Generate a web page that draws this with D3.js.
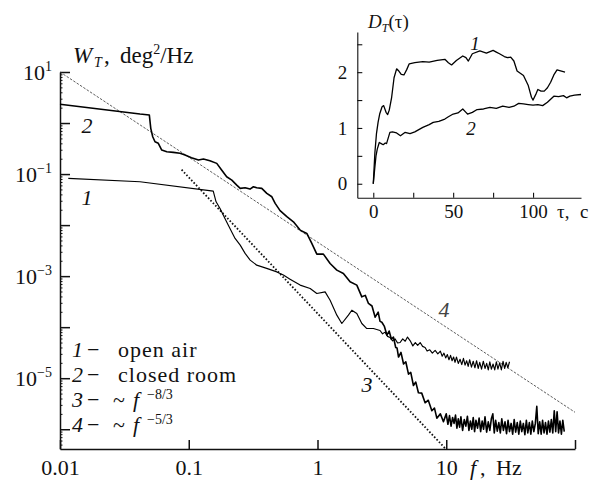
<!DOCTYPE html>
<html>
<head>
<meta charset="utf-8">
<script src="https://cdn.jsdelivr.net/npm/d3@7"></script>
<style>
  body { margin: 0; background: #fff; }
  svg text { font-family: "Liberation Serif", "Times New Roman", serif; fill: #111; }
  .axis path, .axis line { stroke: #111; }
</style>
</head>
<body>
<svg id="chart" width="592" height="480" font-family="Liberation Serif"></svg>
<script>
// main spectrum: [f (Hz), W (deg^2/Hz)]
const openAir = [
  [0.0116, 0.0824], [0.0418, 0.0706], [0.155, 0.0464], [0.163, 0.0286], [0.175, 0.0212],
  [0.191, 0.0135], [0.209, 0.00861], [0.229, 0.00548], [0.251, 0.00405], [0.274, 0.00279],
  [0.300, 0.00206], [0.337, 0.00164], [0.403, 0.00142], [0.483, 0.00121], [0.543, 0.00105],
  [0.612, 0.000873], [0.733, 0.000667], [0.877, 0.000574], [0.988, 0.000458], [1.146, 0.000492],
  [1.253, 0.000338], [1.413, 0.000172], [1.545, 0.000118], [1.738, 0.000172], [1.848, 0.000215],
  [2.02, 0.000186], [2.209, 0.000118], [2.416, 9.4e-5], [2.718, 9.4e-5],
  [3.06, 8.6e-5], [3.2, 7.4e-5], [3.35, 8.0e-5], [3.5, 6.6e-5], [3.66, 6.3e-5], [3.83, 5.4e-5],
  [4.0, 5.9e-5], [4.19, 4.9e-5], [4.38, 5.0e-5], [4.59, 5.9e-5], [4.8, 5.3e-5], [5.0, 6.4e-5],
  [5.25, 5.4e-5], [5.5, 4.3e-5], [5.75, 5.0e-5], [6.0, 4.4e-5], [6.27, 5.0e-5], [6.55, 4.2e-5],
  [6.85, 4.0e-5], [7.1, 3.4e-5], [7.45, 3.6e-5], [7.8, 3.1e-5], [8.2, 3.5e-5], [8.6, 3.0e-5],
  [9.0, 3.4e-5], [9.3, 2.7e-5], [9.6, 3.1e-5], [9.9, 2.5e-5], [10.2, 2.9e-5], [10.5, 2.3e-5],
  [10.8, 2.8e-5], [11.1, 2.2e-5], [11.4, 2.6e-5], [11.7, 2.05e-5], [12.0, 2.6e-5], [12.4, 1.95e-5],
  [12.8, 2.35e-5], [13.2, 1.85e-5], [13.6, 2.45e-5], [14.0, 1.8e-5], [14.4, 2.2e-5], [14.8, 1.7e-5],
  [15.2, 2.3e-5], [15.7, 1.65e-5], [16.2, 2.15e-5], [16.7, 1.6e-5], [17.2, 2.2e-5], [17.7, 1.55e-5],
  [18.2, 2.05e-5], [18.8, 1.5e-5], [19.4, 2.15e-5], [20.0, 1.55e-5], [20.6, 1.95e-5], [21.2, 1.45e-5],
  [21.8, 2.1e-5], [22.4, 1.5e-5], [23.1, 1.9e-5], [23.8, 1.45e-5], [24.5, 2.1e-5], [25.2, 1.5e-5],
  [26.0, 2.0e-5], [26.8, 1.45e-5], [27.6, 2.15e-5], [28.4, 1.55e-5], [29.2, 2.05e-5], [30.1, 1.6e-5],
  [31.0, 2.1e-5]
];

const closedRoom = [
  [0.01, 2.33], [0.0418, 1.50], [0.0494, 1.44], [0.0507, 0.787], [0.0525, 0.539], [0.0547, 0.430],
  [0.058, 0.400], [0.0617, 0.296], [0.0675, 0.274], [0.0759, 0.266], [0.0855, 0.255], [0.0935, 0.236],
  [0.105, 0.209], [0.119, 0.188], [0.130, 0.197], [0.146, 0.182], [0.165, 0.162], [0.180, 0.120],
  [0.197, 0.0885], [0.216, 0.0762], [0.236, 0.0608], [0.251, 0.0525], [0.274, 0.0538], [0.299, 0.0508],
  [0.318, 0.0564], [0.337, 0.0538], [0.369, 0.0525], [0.404, 0.0419], [0.442, 0.0359], [0.469, 0.0266],
  [0.512, 0.0192], [0.578, 0.0146], [0.650, 0.0116], [0.733, 0.00798], [0.826, 0.00687], [0.903, 0.00438],
  [0.988, 0.0027], [1.111, 0.0027], [1.253, 0.00177], [1.413, 0.00131], [1.589, 0.00113], [1.791, 0.000773],
  [2.02, 0.000667], [2.209, 0.000393], [2.35, 0.00042], [2.488, 0.000292], [2.65, 0.00026], [2.805, 0.000157],
  [2.96, 0.000197], [3.06, 0.00013], [3.162, 0.000125], [3.3, 1.05e-4], [3.459, 7.0e-5], [3.6, 8.4e-5],
  [3.75, 5.8e-5], [3.89, 6.4e-5], [4.05, 4.0e-5], [4.15, 3.9e-5], [4.26, 2.6e-5], [4.45, 3.2e-5],
  [4.66, 1.9e-5], [4.85, 2.1e-5], [5.09, 1.2e-5], [5.3, 1.3e-5], [5.56, 7.2e-6], [5.8, 8.4e-6],
  [6.08, 5.2e-6], [6.45, 5.1e-6], [6.85, 3.3e-6], [7.25, 3.7e-6], [7.73, 2.3e-6], [8.1, 2.6e-6],
  [8.45, 1.65e-6], [9.0, 2.0e-6], [9.51, 1.4e-6],
  [10, 2.0e-6], [10.3, 1.25e-6], [10.6, 1.85e-6], [10.9, 1.15e-6], [11.2, 1.7e-6], [11.5, 1.3e-6],
  [11.8, 1.9e-6], [12.1, 1.05e-6], [12.4, 1.6e-6], [12.7, 1.1e-6], [13.0, 1.75e-6], [13.4, 0.95e-6],
  [13.8, 1.55e-6], [14.2, 1.15e-6], [14.6, 1.8e-6], [15.0, 0.95e-6], [15.4, 1.45e-6], [15.8, 1.0e-6],
  [16.2, 1.7e-6], [16.6, 0.9e-6], [17.0, 1.5e-6], [17.5, 1.05e-6], [18.0, 1.65e-6], [18.5, 0.9e-6],
  [19.0, 1.45e-6], [19.5, 1.0e-6], [20.0, 1.75e-6], [20.6, 0.88e-6], [21.2, 1.4e-6], [21.8, 0.95e-6],
  [22.4, 1.6e-6], [23.0, 2.0e-6], [23.6, 0.85e-6], [24.2, 1.5e-6], [24.9, 0.92e-6], [25.6, 1.35e-6],
  [26.3, 0.85e-6], [27.0, 1.6e-6], [27.8, 0.95e-6], [28.6, 1.4e-6], [29.4, 0.82e-6], [30.2, 1.5e-6],
  [31.0, 0.9e-6], [31.9, 1.3e-6], [32.8, 0.8e-6], [33.7, 1.55e-6], [34.6, 0.88e-6], [35.6, 1.35e-6],
  [36.6, 0.8e-6], [37.6, 1.45e-6], [38.6, 0.9e-6], [39.7, 1.3e-6], [40.8, 0.78e-6], [41.9, 1.5e-6],
  [43.0, 0.85e-6], [44.2, 1.35e-6], [45.4, 0.8e-6], [46.6, 1.45e-6], [47.9, 0.9e-6], [49.2, 1.3e-6],
  [50.5, 2.8e-6], [51.8, 0.82e-6], [53.2, 1.4e-6], [54.6, 0.8e-6], [56.0, 1.5e-6], [57.5, 0.85e-6],
  [59.0, 1.35e-6], [60.6, 0.8e-6], [62.2, 1.45e-6], [63.8, 0.88e-6], [65.5, 1.55e-6], [67.2, 0.85e-6],
  [69.0, 2.3e-6], [70.8, 0.9e-6], [72.6, 2.2e-6], [74.5, 0.85e-6], [76.4, 1.45e-6], [78.4, 0.8e-6],
  [80.4, 1.5e-6], [82.5, 0.9e-6]
];

// power-law guides, end points only
const slope83 = [[0.088, 0.1216], [9.9, 4.12e-7]];
const slope53 = [[0.01, 10], [100, 2.15e-6]];

// inset structure function: [tau (s), D]
const insetOpen = [
  [0, 0], [1, 0.55], [2, 0.9], [3, 1.1], [4, 1.25], [5.5, 1.38], [6.5, 1.40], [8, 1.28], [9, 1.24],
  [10, 1.32], [11.5, 1.55], [13, 1.9], [14.6, 2.06], [16, 2.02], [17.5, 1.96], [19.2, 1.95], [21, 2.05],
  [22.5, 2.15], [26, 2.17], [31, 2.19], [35, 2.18], [40, 2.21], [44.8, 2.23], [47, 2.17], [49, 2.13],
  [52, 2.21], [56, 2.29], [58, 2.26], [59.5, 2.2], [62, 2.33], [66.7, 2.38], [70.8, 2.34], [75, 2.39],
  [77, 2.36], [79, 2.33], [82, 2.28], [84, 2.26], [86, 2.27], [88, 2.2], [90, 2.02], [94, 1.94],
  [97, 1.76], [99, 1.55], [100, 1.50], [102, 1.62], [103, 1.69], [105, 1.66], [107, 1.66], [109, 1.72],
  [111, 1.82], [113, 1.95], [115, 2.04], [120, 2.0]
];
const insetRoom = [
  [0, 0], [1, 0.3], [1.7, 0.5], [2.5, 0.62], [3.75, 0.74], [5, 0.72], [6.2, 0.70], [7.5, 0.73],
  [8.3, 0.72], [10.4, 0.92], [12, 0.93], [14.6, 0.91], [17, 0.86], [19.8, 0.92], [23, 0.9], [26, 0.93],
  [31, 1.01], [35, 1.06], [37.5, 1.10], [41, 1.12], [44.8, 1.16], [47, 1.2], [50, 1.25], [53, 1.27],
  [56, 1.34], [58, 1.28], [59, 1.25], [62, 1.28], [65, 1.33], [69, 1.34], [73, 1.37], [77, 1.35],
  [81, 1.39], [85, 1.37], [88, 1.39], [91, 1.44], [94, 1.43], [97, 1.42], [100, 1.41], [103, 1.42],
  [106, 1.40], [109, 1.46], [113, 1.57], [116, 1.56], [119, 1.58], [121, 1.54], [123, 1.57], [126, 1.59],
  [130, 1.6]
];

// tick values / labels
const xTicks = [0.01, 0.1, 1, 10, 100];
const xTickLabels = ["0.01", "0.1", "1", "10", ""];
const yDecades = [10, 1, 0.1, 0.01, 1e-3, 1e-4, 1e-5, 1e-6];
const yLabelExp = [1, -1, -3, -5];
const insetXTicks = [0, 25, 50, 75, 100];
const insetXLabels = [0, 50, 100];
const insetYTicks = [0, 0.5, 1, 1.5, 2, 2.5];
const insetYLabels = [0, 1, 2];
const legendRows = [
  { num: "1", text: "open air" },
  { num: "2", text: "closed room" },
  { num: "3", text: "~ ", f: "f", exp: "\u22128/3" },
  { num: "4", text: "~ ", f: "f", exp: "\u22125/3" }
];

const svg = d3.select("#chart");

// scales
const x = d3.scaleLog().domain([0.01, 100]).range([60, 575]);
const y = d3.scaleLog().domain([4.1e-7, 10]).range([449, 72]);
const tx = d3.scaleLinear().domain([-10, 130]).range([357.3, 581]);
const ty = d3.scaleLinear().domain([-0.25, 2.72]).range([197.7, 32]);

// main x axis
svg.append("g")
    .attr("class", "axis")
    .attr("transform", "translate(0,449)")
    .call(d3.axisBottom(x)
        .tickValues(xTicks)
        .tickSize(-9)
        .tickSizeOuter(0)
        .tickPadding(11)
        .tickFormat((d, i) => xTickLabels[i]))
    .call(g => g.selectAll("text").style("font-size", "22px").attr("dy", "0.66em"))
    .call(g => g.selectAll("path, line").attr("stroke-width", 1.5))

// main y axis, minor ticks first
const minor = y.ticks().filter(d => Math.abs(Math.log10(d) - Math.round(Math.log10(d))) > 1e-6)
svg.append("g")
    .attr("class", "axis")
    .attr("transform", "translate(60,0)")
    .call(d3.axisLeft(y).tickValues(minor).tickSize(-2.5).tickSizeOuter(0).tickFormat(""))
    .call(g => g.selectAll("line").attr("stroke-width", 1))
    .call(g => g.select("path").remove())

svg.append("g")
    .attr("class", "axis")
    .attr("transform", "translate(60,0)")
    .call(d3.axisLeft(y).tickValues(yDecades).tickSize(-10).tickSizeOuter(0).tickFormat(""))
    .call(g => g.selectAll("path, line").attr("stroke-width", 1.5))

// y labels 10^n
yLabelExp.forEach(e => {
    const t = svg.append("text")
        .attr("x", 52)
        .attr("y", y(Math.pow(10, e)) + 8)
        .attr("text-anchor", "end")
        .style("font-size", "22px")
    t.append("tspan").text("10")
    t.append("tspan").attr("dy", -9).style("font-size", "14px")
        .text(e < 0 ? "\u2212" + Math.abs(e) : String(e))
})

// guide lines
const line = d3.line().x(d => x(d[0])).y(d => y(d[1]));

svg.append("path")
    .datum(slope53)
    .attr("d", line)
    .attr("fill", "none")
    .attr("stroke", "#333")
    .attr("stroke-width", 0.8)
    .attr("stroke-dasharray", "2.5 1.5")

svg.append("path")
    .datum(slope83)
    .attr("d", line)
    .attr("fill", "none")
    .attr("stroke", "#111")
    .attr("stroke-width", 1.8)
    .attr("stroke-dasharray", "1.6 1.9")

// spectra (open air drawn thinner than closed room)
svg.append("path")
    .datum(openAir)
    .attr("d", line)
    .attr("fill", "none")
    .attr("stroke", "#000")
    .attr("stroke-width", 1.15)
    .attr("stroke-linejoin", "round")

svg.append("path")
    .datum(closedRoom)
    .attr("d", line)
    .attr("fill", "none")
    .attr("stroke", "#000")
    .attr("stroke-width", 1.6)
    .attr("stroke-linejoin", "round")

// title and axis name
const title = svg.append("text").attr("y", 63).style("font-size", "23px")
title.append("tspan").attr("x", 73).style("font-style", "italic").text("W")
title.append("tspan").attr("x", 94).attr("dy", 4).style("font-style", "italic").style("font-size", "14px").text("T")
title.append("tspan").attr("x", 104).attr("dy", -4).text(",")
title.append("tspan").attr("x", 120).text("deg")
title.append("tspan").attr("dy", -9).style("font-size", "14px").text("2")
title.append("tspan").attr("dy", 9).text("/Hz")

const fLabel = svg.append("text").attr("y", 475).style("font-size", "22px")
fLabel.append("tspan").attr("x", 470).style("font-style", "italic").text("f")
fLabel.append("tspan").attr("x", 480).text(",")
fLabel.append("tspan").attr("x", 496).text("Hz")

// curve numbers
const curveNums = [["2", 87, 133], ["1", 87, 205], ["3", 367, 392], ["4", 444, 317]]
curveNums.forEach(c => {
    svg.append("text")
        .attr("x", c[1]).attr("y", c[2])
        .attr("text-anchor", "middle")
        .style("font-size", "22px")
        .style("font-style", "italic")
        .style("fill", c[0] === "4" ? "#444" : "#111")
        .text(c[0])
})

// legend
legendRows.forEach((r, i) => {
    const ly = 357 + i * 25
    const t = svg.append("text").attr("y", ly).style("font-size", "22px")
    t.append("tspan").attr("x", 72).style("font-style", "italic").text(r.num)
    t.append("tspan").attr("x", 87).text("\u2212")
    if (r.f) {
        t.append("tspan").attr("x", 113).text("~")
        t.append("tspan").attr("x", 133).style("font-style", "italic").text(r.f)
        t.append("tspan").attr("x", 147).attr("dy", -8).style("font-size", "14px").text(r.exp)
    } else {
        t.append("tspan").attr("x", 118).style("letter-spacing", "1px").text(r.text)
    }
})

// inset
const inset = svg.append("g")

inset.append("g")
    .attr("class", "axis")
    .attr("transform", `translate(0,${ty.range()[0]})`)
    .call(d3.axisBottom(tx)
        .tickValues(insetXTicks)
        .tickSize(-5)
        .tickSizeOuter(0)
        .tickPadding(7)
        .tickFormat(d => insetXLabels.includes(d) ? d : ""))
    .call(g => g.selectAll("text").style("font-size", "19px"))
    .call(g => g.selectAll("path, line").attr("stroke-width", 1.1))

inset.append("g")
    .attr("class", "axis")
    .attr("transform", `translate(${tx.range()[0]},0)`)
    .call(d3.axisLeft(ty)
        .tickValues(insetYTicks)
        .tickSize(-5)
        .tickSizeOuter(0)
        .tickPadding(10)
        .tickFormat(d => insetYLabels.includes(d) ? d : ""))
    .call(g => g.selectAll("text").style("font-size", "19px"))
    .call(g => g.selectAll("path, line").attr("stroke-width", 1.1))

const iline = d3.line().x(d => tx(d[0])).y(d => ty(d[1]));
;[insetOpen, insetRoom].forEach(s => {
    inset.append("path")
        .datum(s)
        .attr("d", iline)
        .attr("fill", "none")
        .attr("stroke", "#000")
        .attr("stroke-width", 1.3)
        .attr("stroke-linejoin", "round")
})

const dLabel = inset.append("text").attr("x", 368).attr("y", 28).style("font-size", "19px")
dLabel.append("tspan").style("font-style", "italic").text("D")
dLabel.append("tspan").attr("dy", 4).style("font-style", "italic").style("font-size", "12px").text("T")
dLabel.append("tspan").attr("dy", -4).text("(\u03c4)")

const tauLabel = inset.append("text").attr("y", 218).style("font-size", "19px")
tauLabel.append("tspan").attr("x", 557).text("\u03c4,")
tauLabel.append("tspan").attr("x", 580).text("c")

inset.append("text").attr("x", 475).attr("y", 50).attr("text-anchor", "middle")
    .style("font-size", "19px").style("font-style", "italic").text("1")
inset.append("text").attr("x", 471).attr("y", 135).attr("text-anchor", "middle")
    .style("font-size", "19px").style("font-style", "italic").text("2")
</script>
</body>
</html>
